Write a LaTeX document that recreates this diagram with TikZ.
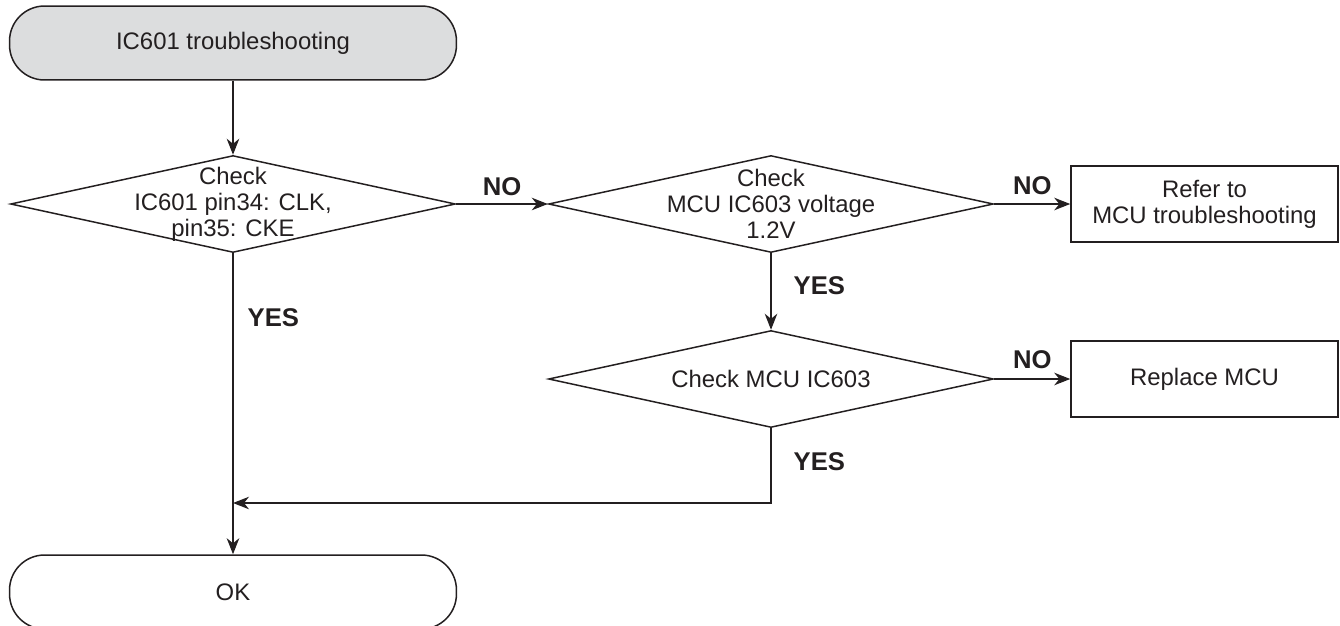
\documentclass[tikz,border=0pt]{standalone}
\usepackage{fontspec}
\setmainfont{Liberation Sans}
\usepackage{tikz}
\usetikzlibrary{
  arrows.meta,
  shapes,
  shapes.geometric,
  positioning,
  calc
}
\definecolor{fcLine}{HTML}{231F20}
\definecolor{fcFill}{HTML}{DCDDDE}
\newcommand{\fcfont}{\fontsize{13.6}{14.8}\selectfont}
\newcommand{\ansfont}{\fontsize{14.6}{15}\selectfont\bfseries}
\tikzset{
  fcnode/.style={
    draw=fcLine, line width=0.85pt, text=fcLine, font=\fcfont,
    align=center, inner sep=0pt
  },
  terminal/.style={fcnode, rectangle, rounded corners=0.7cm, minimum width=8.94cm, minimum height=1.48cm},
  startbox/.style={terminal, fill=fcFill},
  decision/.style={fcnode, diamond, minimum width=8.9cm, minimum height=1.94cm},
  dtext/.style={font=\fcfont, text=fcLine, align=center},
  action/.style={fcnode, rectangle, minimum width=5.34cm, minimum height=1.52cm},
  flow/.style={-{Stealth[length=0.32cm, width=0.25cm, inset=0.1cm]}, line width=0.85pt, fcLine},
  answer/.style={font=\ansfont, text=fcLine, inner sep=0pt}
}

\begin{document}
\begin{tikzpicture}[x=0.02cm, y=-0.02cm]
  \useasboundingbox (0,0) rectangle (1340,626);
  \clip (0,0) rectangle (1340,626);
  \node[startbox] (start) at (233,43) {IC601 troubleshooting};
  \node[decision, label={[dtext]center:Check\\IC601 pin34: CLK,\\pin35: CKE}] (chkclk) at (233,204) {};
  \node[decision, label={[dtext]center:Check\\MCU IC603 voltage\\1.2V}] (chkvolt) at (771,204) {};
  \node[action] (refer) at (1204.5,204) {Refer to\\MCU troubleshooting};
  \node[decision, label={[dtext]center:Check MCU IC603}] (chkmcu) at (771,379) {};
  \node[action] (repl) at (1204.5,379) {Replace MCU};
  \node[terminal] (ok) at (233,592) {OK};
  \coordinate (join) at (233,503);
  % NO branches
  \draw[flow] (chkclk) -- (chkvolt) node[answer, midway, above=0.16cm] {NO};
  \draw[flow] (chkvolt) -- (refer) node[answer, midway, above=0.18cm] {NO};
  \draw[flow] (chkmcu) -- (repl) node[answer, midway, above=0.2cm] {NO};
  % YES branches
  \draw[flow] (start) -- (chkclk);
  \draw[flow] (chkvolt) -- (chkmcu) node[answer, pos=0.42, right=0.44cm] {YES};
  \draw[flow] (chkmcu) |- (join) node[answer, pos=0.225, right=0.44cm] {YES};
  \draw[flow] (chkclk) -- (ok) node[answer, pos=0.215, right=0.28cm] {YES};
\end{tikzpicture}
\end{document}
